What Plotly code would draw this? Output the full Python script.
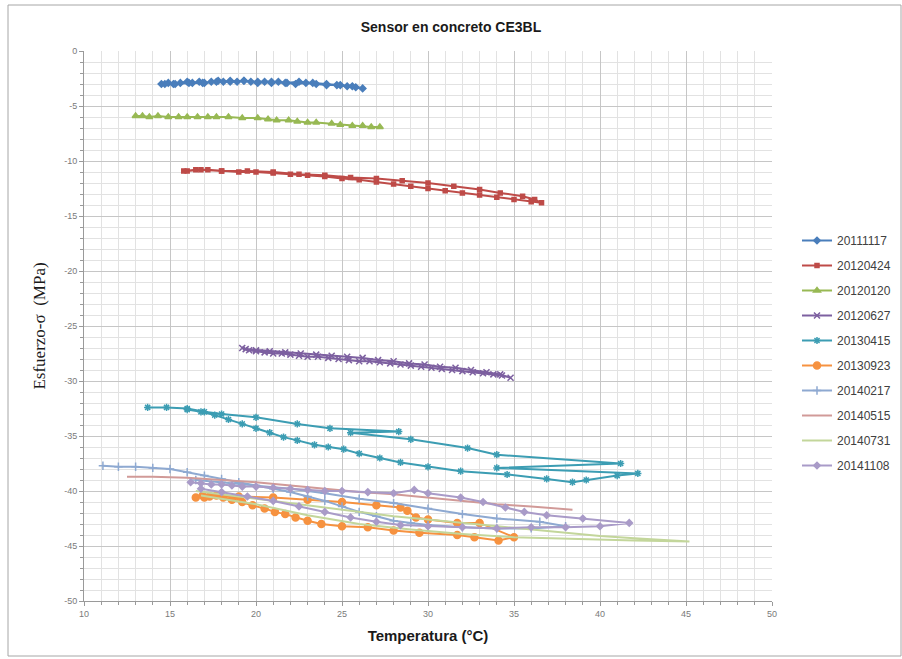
import plotly.graph_objects as go

# ---- data: temperature (°C) vs stress (MPa) per measurement campaign ----
t_20111117 = [14.5, 14.9, 15.2, 15.6, 16.0, 16.3, 16.7, 17.0, 17.4, 17.8, 18.1, 18.5, 18.9, 19.3,
              19.7, 20.1, 20.5, 20.9, 21.3, 21.8, 22.3, 22.9, 23.5, 24.1, 24.7, 25.3, 25.8, 26.2,
              25.6, 24.9, 24.1, 23.3, 22.5, 21.7, 20.9, 20.1, 19.3, 18.5, 17.7, 16.9, 16.1, 15.3, 14.7]
s_20111117 = [-3.0, -2.9, -3.0, -2.9, -2.8, -2.9, -2.8, -2.9, -2.8, -2.7, -2.8, -2.7, -2.8, -2.7,
              -2.8, -2.9, -2.8, -2.9, -2.8, -2.9, -3.0, -2.9, -3.0, -3.1, -3.1, -3.2, -3.3, -3.4,
              -3.2, -3.1, -3.0, -2.9, -2.8, -2.9, -2.8, -2.8, -2.7, -2.8, -2.8, -2.9, -2.9, -3.0, -3.0]

t_20120424 = [15.8, 16.5, 17.2, 18.0, 19.0, 20.0, 21.0, 22.0, 23.0, 24.0, 25.0, 26.0, 27.0, 28.0,
              29.0, 30.0, 31.0, 32.0, 33.0, 34.0, 35.0, 36.0, 36.6,
              36.2, 35.5, 34.2, 33.0, 31.5, 30.0, 28.5, 27.0, 25.5, 24.0, 22.5, 21.0, 19.5, 18.0, 16.8, 16.0]
s_20120424 = [-10.9, -10.8, -10.8, -10.9, -11.0, -11.0, -11.1, -11.2, -11.3, -11.4, -11.6, -11.7, -11.9, -12.1,
              -12.3, -12.5, -12.7, -12.9, -13.1, -13.3, -13.5, -13.7, -13.8,
              -13.5, -13.2, -12.9, -12.6, -12.3, -12.0, -11.8, -11.6, -11.5, -11.3, -11.2, -11.0, -10.9, -10.9, -10.8, -10.9]

t_20120120 = [13.0, 13.4, 13.8, 14.3, 14.9, 15.5, 16.0, 16.6, 17.2, 17.7, 18.4, 19.2, 20.1, 20.7,
              21.2, 21.9, 22.4, 23.0, 23.5, 24.4, 24.9, 25.6, 26.2, 26.7, 27.2]
s_20120120 = [-5.9, -5.9, -6.0, -5.9, -6.0, -6.0, -6.0, -6.0, -6.0, -6.0, -6.0, -6.1, -6.1, -6.2,
              -6.3, -6.3, -6.4, -6.5, -6.5, -6.6, -6.7, -6.8, -6.8, -6.9, -6.9]

t_20120627 = [19.2, 19.6, 20.0, 20.5, 21.0, 21.5, 22.0, 22.5, 23.0, 23.6, 24.2, 24.8, 25.4, 26.0, 26.6,
              27.2, 27.8, 28.4, 29.0, 29.6, 30.2, 30.8, 31.4, 32.0, 32.6, 33.2, 33.8, 34.3, 34.8,
              34.2, 33.4, 32.5, 31.6, 30.7, 29.8, 28.9, 28.0, 27.1, 26.2, 25.3, 24.4, 23.5, 22.6, 21.7,
              20.8, 20.0, 19.4]
s_20120627 = [-27.0, -27.2, -27.3, -27.4, -27.5, -27.5, -27.6, -27.7, -27.8, -27.8, -27.9, -28.0, -28.1, -28.2, -28.2,
              -28.3, -28.4, -28.5, -28.6, -28.7, -28.8, -28.9, -29.0, -29.1, -29.2, -29.3, -29.4, -29.5, -29.7,
              -29.4, -29.2, -29.0, -28.8, -28.7, -28.5, -28.4, -28.2, -28.1, -27.9, -27.8, -27.7, -27.6, -27.5, -27.4,
              -27.3, -27.2, -27.1]

t_20130415 = [13.7, 14.8, 16.0, 17.0, 18.0, 20.0, 22.4, 24.3, 28.3, 25.5, 29.0, 32.3, 34.0, 41.2,
              34.0, 42.2, 41.0, 39.2, 38.4, 36.9, 34.6, 31.9, 30.0, 28.4, 27.2, 26.0, 25.1, 24.2,
              23.4, 22.4, 21.6, 20.8, 20.0, 19.2, 18.4, 17.6, 16.8, 16.0]
s_20130415 = [-32.4, -32.4, -32.5, -32.8, -33.0, -33.3, -33.9, -34.3, -34.6, -34.7, -35.3, -36.1, -36.7, -37.5,
              -37.9, -38.4, -38.6, -39.0, -39.2, -38.9, -38.5, -38.2, -37.8, -37.4, -37.0, -36.6, -36.2, -36.0,
              -35.8, -35.4, -35.1, -34.7, -34.3, -33.9, -33.5, -33.1, -32.8, -32.6]

t_20130923 = [16.5, 16.9, 17.3, 17.7, 18.1, 18.6, 19.2, 19.8, 20.5, 21.1, 21.7, 22.3, 23.0, 23.8,
              25.0, 26.5, 28.0, 29.5, 31.7, 32.7, 34.1, 35.0,
              33.0, 31.7, 30.0, 29.3, 28.8, 28.4, 27.0, 25.0, 23.0, 21.0, 19.0, 17.0]
s_20130923 = [-40.6, -40.4, -40.5, -40.4, -40.6, -40.8, -41.0, -41.3, -41.6, -41.9, -42.1, -42.4, -42.7, -43.0,
              -43.2, -43.3, -43.6, -43.8, -44.0, -44.2, -44.5, -44.2,
              -42.9, -42.9, -42.6, -42.4, -41.8, -41.5, -41.3, -41.0, -40.8, -40.6, -40.5, -40.6]

t_20140217 = [11.1, 12.0, 13.0, 14.0, 15.0, 16.0, 17.0, 18.0, 19.0, 20.0, 21.0, 22.0, 23.0, 24.0,
              25.0, 26.0, 27.0, 28.0, 29.0, 30.0, 32.0, 34.0, 36.0, 38.0,
              36.5, 34.0, 32.0, 30.0, 28.0, 26.0, 24.0, 22.0, 20.0, 18.0, 16.5]
s_20140217 = [-37.7, -37.8, -37.8, -37.9, -38.0, -38.3, -38.6, -38.9, -39.2, -39.5, -39.8, -40.1, -40.5, -40.9,
              -41.4, -41.9, -42.3, -42.7, -42.9, -43.1, -43.3, -43.4, -43.4, -43.2,
              -42.8, -42.5, -42.1, -41.6, -41.1, -40.7, -40.2, -39.8, -39.5, -39.2, -39.0]

t_20140515 = [12.5, 14.0, 16.0, 18.0, 20.0, 22.0, 24.0, 26.0, 28.0, 30.0, 32.0, 34.0, 36.0, 38.4]
s_20140515 = [-38.7, -38.7, -38.8, -39.0, -39.2, -39.5, -39.8, -40.1, -40.3, -40.6, -40.9, -41.2, -41.4, -41.7]

t_20140731 = [16.5, 18.0, 20.0, 22.0, 24.0, 26.0, 28.0, 30.0, 32.0, 34.0, 36.0, 38.0, 40.0, 42.0, 45.2,
              42.0, 38.0, 35.0, 32.0, 29.0, 26.0, 23.0, 20.0, 18.0, 16.8]
s_20140731 = [-40.0, -40.3, -40.7, -41.1, -41.5, -41.9, -42.3, -42.6, -42.9, -43.2, -43.5, -43.8, -44.1, -44.3, -44.6,
              -44.5, -44.3, -44.2, -43.9, -43.5, -43.0, -42.2, -41.2, -40.7, -40.4]

t_20141108 = [16.2, 16.8, 17.4, 18.0, 18.6, 19.2, 20.0, 21.0, 22.0, 23.0, 24.0, 25.0, 26.5, 28.0, 29.2,
              30.0, 31.9, 33.2, 34.5, 35.6, 36.9, 39.0, 41.7,
              40.0, 38.0, 36.0, 34.0, 32.0, 30.0, 28.4, 27.0, 25.5, 24.0, 22.5, 21.0, 19.5, 18.0, 16.8]
s_20141108 = [-39.2, -39.3, -39.4, -39.4, -39.5, -39.6, -39.6, -39.7, -39.8, -39.9, -40.0, -40.0, -40.1, -40.2, -39.9,
              -40.2, -40.6, -41.0, -41.5, -41.9, -42.2, -42.5, -42.9,
              -43.2, -43.3, -43.3, -43.4, -43.3, -43.2, -43.1, -42.8, -42.4, -41.9, -41.4, -40.9, -40.5, -40.1, -39.8]

x_ticks = [10, 15, 20, 25, 30, 35, 40, 45, 50]
y_ticks = [0, -5, -10, -15, -20, -25, -30, -35, -40, -45, -50]
y_tick_text = ["0", "-5", "-10", "-15", "-20", "-25", "-30", "-35", "-40", "-45", "-50"]

series = [
    ("20111117", t_20111117, s_20111117, "#4A7EBB", "diamond", 5),
    ("20120424", t_20120424, s_20120424, "#BE4B48", "square", 4),
    ("20120120", t_20120120, s_20120120, "#98B954", "triangle-up", 6),
    ("20120627", t_20120627, s_20120627, "#7D60A0", "x-thin", 6),
    ("20130415", t_20130415, s_20130415, "#3C9DB3", "asterisk", 6),
    ("20130923", t_20130923, s_20130923, "#F69240", "circle", 7),
    ("20140217", t_20140217, s_20140217, "#8EA9D1", "cross-thin", 6),
    ("20140515", t_20140515, s_20140515, "#D19A98", None, 0),
    ("20140731", t_20140731, s_20140731, "#C3D69B", None, 0),
    ("20141108", t_20141108, s_20141108, "#A99BC8", "diamond", 5),
]

fig = go.Figure()
for name, xs, ys, color, symbol, size in series:
    if symbol is None:
        fig.add_trace(go.Scatter(x=xs, y=ys, name=name, legendgroup=name, mode="lines",
                                 line=dict(color=color, width=2)))
    else:
        fig.add_trace(go.Scatter(
            x=xs, y=ys, name=name, legendgroup=name, mode="lines+markers",
            line=dict(color=color, width=2),
            marker=dict(symbol=symbol, size=size, color=color,
                        line=dict(color=color, width=1.5))))

L, R, T, B = 84, 130, 51, 58
W, H = 902, 659
pw, ph = W - L - R, H - T - B


def px_x(p):
    return (p - L) / pw


def px_y(p):
    return (H - B - p) / ph


grid_major = "#c6c6c6"
grid_minor = "#e2e2e2"
tick_font = dict(family="Liberation Sans, Arial, sans-serif", size=9, color="#7a7a7a")

fig.update_layout(
    width=W, height=H,
    margin=dict(l=L, r=R, t=T, b=B, autoexpand=False),
    paper_bgcolor="white", plot_bgcolor="white",
    title=dict(text="<b>Sensor en concreto CE3BL</b>", x=px_x(428), xanchor="center",
               y=1 - 27 / H, yanchor="middle",
               font=dict(family="Liberation Sans, Arial, sans-serif", size=14, color="#1a1a1a")),
    xaxis=dict(
        range=[10, 50], tickvals=x_ticks, ticktext=[str(v) for v in x_ticks],
        showgrid=True, gridcolor=grid_major, gridwidth=1,
        minor=dict(dtick=1, showgrid=True, gridcolor=grid_minor, ticks="outside", ticklen=3, tickcolor="#9a9a9a"),
        ticks="outside", ticklen=4, tickcolor="#9a9a9a",
        showline=True, linecolor="#9a9a9a", linewidth=1, mirror=False,
        zeroline=False, tickfont=tick_font,
        title=dict(text="<b>Temperatura (°C)</b>", standoff=12,
                   font=dict(family="Liberation Sans, Arial, sans-serif", size=15, color="#1a1a1a")),
    ),
    yaxis=dict(
        range=[-50, 0], tickvals=y_ticks, ticktext=y_tick_text,
        showgrid=True, gridcolor=grid_major, gridwidth=1,
        minor=dict(dtick=1, showgrid=True, gridcolor=grid_minor, ticks="outside", ticklen=3, tickcolor="#9a9a9a"),
        ticks="outside", ticklen=4, tickcolor="#9a9a9a",
        showline=True, linecolor="#9a9a9a", linewidth=1,
        zeroline=False, tickfont=tick_font,
        title=dict(text="Esfuerzo-σ  (MPa)", standoff=14,
                   font=dict(family="Liberation Serif, Times New Roman, serif", size=17, color="#1a1a1a")),
    ),
    legend=dict(
        x=px_x(797), y=px_y(226), xanchor="left", yanchor="top",
        font=dict(family="Liberation Sans, Arial, sans-serif", size=12, color="#404040"),
        traceorder="grouped", tracegroupgap=6, itemwidth=30,
        bgcolor="rgba(0,0,0,0)",
    ),
    shapes=[dict(type="rect", xref="paper", yref="paper",
                 x0=px_x(8), x1=px_x(901), y0=px_y(656), y1=px_y(5),
                 line=dict(color="#a6a6a6", width=1), fillcolor="rgba(0,0,0,0)", layer="below")],
)

fig.write_html("out.html")
